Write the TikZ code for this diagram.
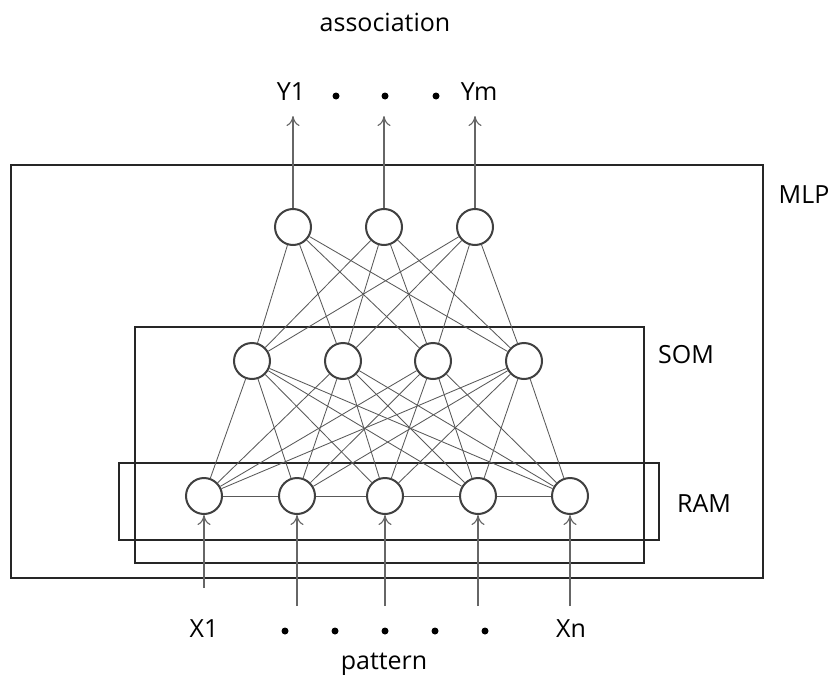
\documentclass[tikz,border=0pt]{standalone}
\usepackage{fontspec}
\setmainfont{Open Sans}
\usetikzlibrary{shapes,arrows,arrows.meta}
\tikzstyle{neuron} = [circle, draw=black!75, line width=2pt, fill=white, minimum size=36pt, inner sep=0pt]
\tikzstyle{link} = [draw, black!65, line width=0.85pt]
\tikzstyle{line} = [draw, black!60, line width=1.1pt, -{To[length=10pt,width=13pt]}]
\tikzstyle{layer} = [draw, black!85, line width=1.5pt]
\tikzstyle{lbl} = [font=\fontsize{25}{30}\selectfont, inner sep=0pt]
\tikzstyle{dot} = [circle, fill=black, minimum size=7pt, inner sep=0pt]

\begin{document}
\begin{tikzpicture}[x=1pt, y=-1pt]
    \useasboundingbox (0,0) rectangle (832,677);

    % layer boxes
    \path [layer] (11,165) rectangle (763,578);
    \path [layer] (135,327) rectangle (644,563);
    \path [layer] (119,463) rectangle (659,540);
    \node [lbl] (mlp) at (804,195) {MLP};
    \node [lbl] (som) at (686,355) {SOM};
    \node [lbl] (ram) at (704,504) {RAM};

    % neurons
    \node [neuron] (o1) at (293,227) {};
    \node [neuron] (o2) at (384,227) {};
    \node [neuron] (o3) at (475,227) {};
    \node [neuron] (s1) at (252,361) {};
    \node [neuron] (s2) at (343,361) {};
    \node [neuron] (s3) at (433,361) {};
    \node [neuron] (s4) at (524,361) {};
    \node [neuron] (r1) at (204,496) {};
    \node [neuron] (r2) at (297,496) {};
    \node [neuron] (r3) at (385,496) {};
    \node [neuron] (r4) at (478,496) {};
    \node [neuron] (r5) at (570,496) {};

    \foreach \i in {1,2,3}
        \foreach \j in {1,...,4}
            \path [link] (o\i) -- (s\j);
    \foreach \i in {1,...,4}
        \foreach \j in {1,...,5}
            \path [link] (s\i) -- (r\j);
    \foreach \i/\j in {1/2,2/3,3/4,4/5}
        \path [link] (r\i) -- (r\j);

    % outputs
    \node [lbl] (assoc) at (385,22) {association};
    \node [lbl] (y1) at (291,92) {Y1};
    \node [dot] (yd1) at (336,96) {};
    \node [dot] (yd2) at (385,96) {};
    \node [dot] (yd3) at (436,96) {};
    \node [lbl] (ym) at (479,92) {Ym};
    \coordinate (t1) at (293,116);
    \coordinate (t2) at (384,116);
    \coordinate (t3) at (475,116);
    \foreach \i in {1,2,3}
        \path [line] (o\i) -- (t\i);

    % inputs
    \coordinate (b1) at (204,588);
    \coordinate (b2) at (297,606);
    \coordinate (b3) at (385,606);
    \coordinate (b4) at (478,606);
    \coordinate (b5) at (570,606);
    \foreach \i in {1,...,5}
        \path [line] (b\i) -- (r\i);
    \node [lbl] (x1) at (204,629) {X1};
    \node [dot] (xd1) at (285,631) {};
    \node [dot] (xd2) at (335,631) {};
    \node [dot] (xd3) at (385,631) {};
    \node [dot] (xd4) at (435,631) {};
    \node [dot] (xd5) at (485,631) {};
    \node [lbl] (xn) at (571,629) {Xn};
    \node [lbl] (pat) at (384,664) {pattern};
\end{tikzpicture}
\end{document}
